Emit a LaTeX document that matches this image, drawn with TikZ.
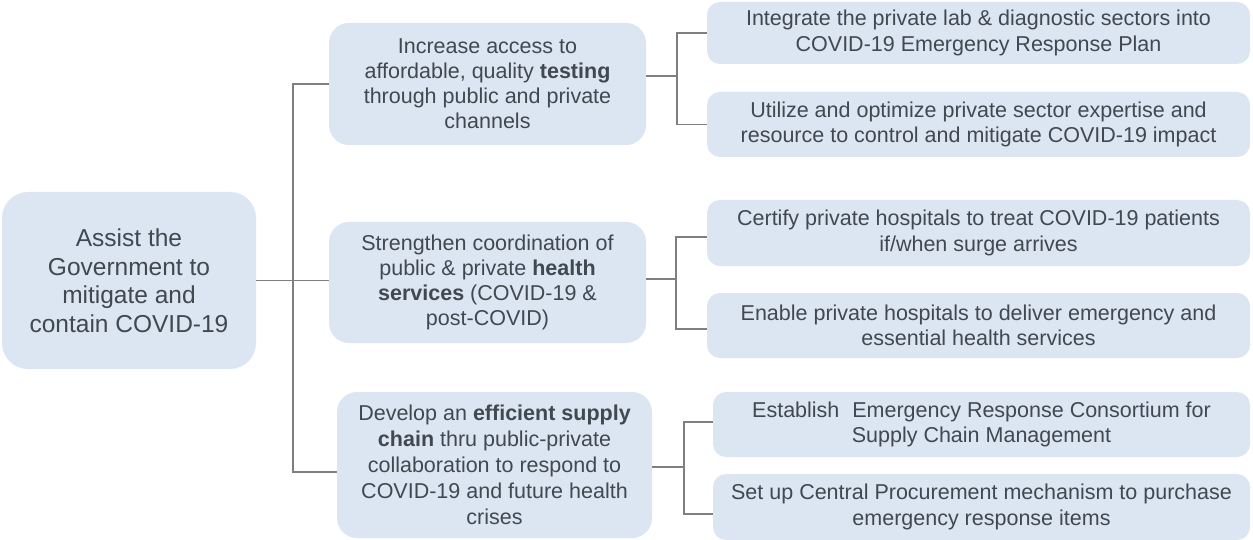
\documentclass[tikz,border=0pt]{standalone}
\usepackage{fontspec}
\setmainfont{Liberation Sans}
\definecolor{boxfill}{HTML}{DCE6F2}
\definecolor{txt}{HTML}{404850}
\definecolor{conn}{HTML}{7F7F7F}
\tikzset{
  box/.style={fill=boxfill, draw=none, align=center, text=txt, inner sep=0pt},
  rootbox/.style={box, rounded corners=26pt, minimum width=254pt, minimum height=177pt, font=\fontsize{24.5}{28.5}\selectfont},
  midbox/.style={box, rounded corners=20pt, minimum width=317pt, font=\fontsize{21.5}{25}\selectfont},
  leafbox/.style={box, rounded corners=13pt, minimum width=543pt, font=\fontsize{21.5}{25.5}\selectfont},
  conline/.style={draw=conn, line width=1.3pt}
}
\begin{document}
\begin{tikzpicture}[x=1pt, y=-1pt]
\path[use as bounding box, fill=white] (0,0) rectangle (1253,540);

\node[rootbox] (root) at (129,280.5) {Assist the\\Government to\\mitigate and\\contain COVID-19};

\node[midbox, minimum height=122pt] (b1) at (487.5,84) {Increase access to\\affordable, quality \textbf{testing}\\through public and private\\channels};
\node[midbox, minimum height=121pt] (b2) at (487.5,282.5) {Strengthen coordination of\\public \& private \textbf{health}\\\textbf{services} (COVID-19 \&\\post-COVID)};
\node[midbox, minimum height=146pt, minimum width=315pt, font=\fontsize{21.5}{26}\selectfont] (b3) at (494.5,465) {Develop an \textbf{efficient supply}\\\textbf{chain} thru public-private\\collaboration to respond to\\COVID-19 and future health\\crises};

\node[leafbox, minimum height=62pt] (a) at (978.5,33) {Integrate the private lab \& diagnostic sectors into\\COVID-19 Emergency Response Plan};
\node[leafbox, minimum height=65pt] (b) at (978.5,124.5) {Utilize and optimize private sector expertise and\\resource to control and mitigate COVID-19 impact};
\node[leafbox, minimum height=66pt] (c) at (978.5,233) {Certify private hospitals to treat COVID-19 patients\\if/when surge arrives};
\node[leafbox, minimum height=65pt] (d) at (978.5,325.5) {Enable private hospitals to deliver emergency and\\essential health services};
\node[leafbox, minimum height=65pt, minimum width=537pt] (e) at (981.5,424.5) {Establish\hspace{0.6em}Emergency Response Consortium for\\Supply Chain Management};
\node[leafbox, minimum height=66pt, minimum width=537pt] (f) at (981.5,507) {Set up Central Procurement mechanism to purchase\\emergency response items};

% trunk
\coordinate (t) at (293,280.5);
\coordinate (t3) at (293,472);
\draw[conline] (root.east |- t) -- (t);
\draw[conline] (b1.west) -| (t3) -- (t3 -| b3.west);
\draw[conline] (t) -- (t -| b2.west);

% right brackets
\coordinate (j1) at (677,76);
\draw[conline] (j1 -| b1.east) -- (j1);
\draw[conline] (a.west) -| (j1) |- (b.west);

\coordinate (j2) at (676,279);
\coordinate (c1) at (676,237);
\coordinate (d1) at (676,329);
\draw[conline] (j2 -| b2.east) -- (j2);
\draw[conline] (c1 -| c.west) -- (c1) -- (d1) -- (d1 -| d.west);

\coordinate (j3) at (684,467);
\coordinate (e1) at (684,422);
\coordinate (f1) at (684,514);
\draw[conline] (j3 -| b3.east) -- (j3);
\draw[conline] (e1 -| e.west) -- (e1) -- (f1) -- (f1 -| f.west);
\end{tikzpicture}
\end{document}
